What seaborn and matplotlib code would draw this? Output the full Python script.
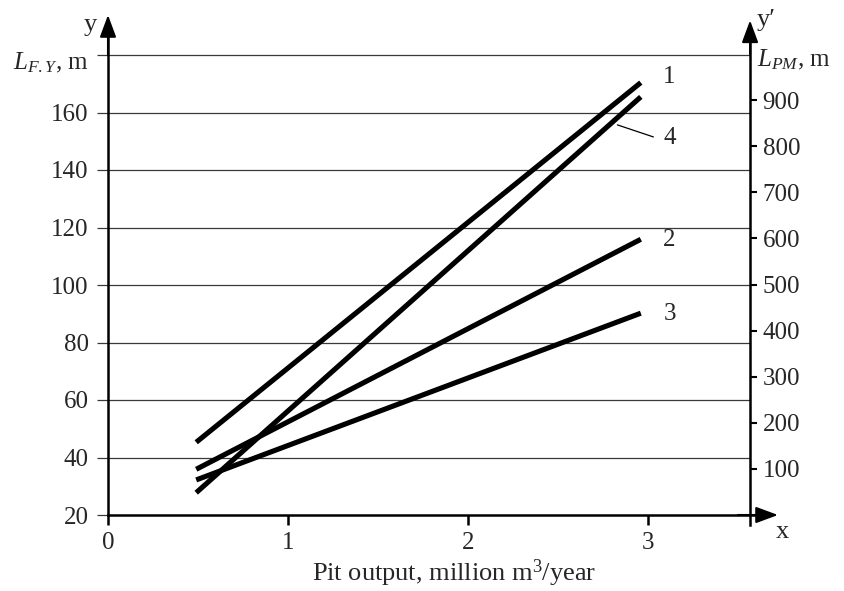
import numpy as np
import seaborn as sns
import matplotlib.pyplot as plt

# values
x_vals = [0.49, 2.96]
line1 = [45.3, 170.4]     # L_F.Y, m
line2 = [35.9, 115.9]
line3 = [32.2, 90.2]
line4 = [48.4, 907.0]     # L_PM, m (right axis)

left_ticks = [20, 40, 60, 80, 100, 120, 140, 160, 180]
left_labels = ['20', '40', '60', '80', '100', '120', '140', '160', '']
grid_y = [40, 60, 80, 100, 120, 140, 160, 180]
right_ticks = [100, 200, 300, 400, 500, 600, 700, 800, 900]
x_ticks = [0, 1, 2, 3]

sns.set_style('white')
plt.rcParams['font.family'] = ['Liberation Serif', 'DejaVu Serif']
plt.rcParams['mathtext.fontset'] = 'custom'
plt.rcParams['mathtext.rm'] = 'Liberation Serif'
plt.rcParams['mathtext.it'] = 'Liberation Serif:italic'

W, H = 845, 591
fig = plt.figure(figsize=(W / 100, H / 100), dpi=100)
ax = fig.add_axes([108 / W, 76 / H, 670 / W, 500 / H])
ax.set_xlim(0, 670 / 180)
ax.set_ylim(20, 20 + 500 / 2.875)
x_right = 3.567

ax2 = ax.twinx()
ax2.set_ylim(0, 500 / 0.461)

# grid lines stop at the right axis
ax.hlines(grid_y, 0, x_right, colors='#3a3a3a', lw=0.9, zorder=1)

lw = 3.7
sns.lineplot(x=x_vals, y=line1, ax=ax, color='k', lw=lw, solid_capstyle='butt', zorder=3)
sns.lineplot(x=x_vals, y=line2, ax=ax, color='k', lw=lw, solid_capstyle='butt', zorder=3)
sns.lineplot(x=x_vals, y=line3, ax=ax, color='k', lw=lw, solid_capstyle='butt', zorder=3)
sns.lineplot(x=x_vals, y=line4, ax=ax2, color='k', lw=lw, solid_capstyle='butt', zorder=3)
ax.set_xlabel('')
ax.set_ylabel('')
ax2.set_ylabel('')

# spines
for s in ['top', 'right']:
    ax.spines[s].set_visible(False)
for s in ['top', 'left', 'bottom']:
    ax2.spines[s].set_visible(False)
ax.spines['left'].set_linewidth(1.8)
ax.spines['bottom'].set_linewidth(1.8)
ax.spines['left'].set_bounds(20, 188)
ax.spines['bottom'].set_bounds(0, 3.65)
ax2.spines['right'].set_position(('data', x_right))
ax2.spines['right'].set_linewidth(1.8)
ax2.spines['right'].set_bounds(-22, 1060)
for sp in [ax.spines['left'], ax.spines['bottom'], ax2.spines['right']]:
    sp.set_color('k')

# axis arrows
arrow = dict(arrowstyle='-|>,head_length=1.35,head_width=0.5', color='k', lw=1.5,
             shrinkA=0, shrinkB=0)
ax.annotate('', xy=(0, 20 + 500 / 2.875), xytext=(0, 180), arrowprops=arrow,
            annotation_clip=False)
ax.annotate('', xy=(670 / 180, 20), xytext=(3.5, 20), arrowprops=arrow,
            annotation_clip=False)
ax2.annotate('', xy=(x_right, 1073), xytext=(x_right, 1000), arrowprops=arrow,
             annotation_clip=False)

# ticks
ax.set_xticks(x_ticks)
ax.set_xticklabels([str(t) for t in x_ticks])
ax.set_yticks(left_ticks)
ax.set_yticklabels(left_labels)
ax.tick_params(axis='x', direction='out', length=7.2, width=1.8, color='k',
               labelsize=18, pad=5, bottom=True)
ax.tick_params(axis='y', direction='out', length=8, width=0.9, color='#3a3a3a',
               labelsize=18, pad=6, left=True)
ax2.set_yticks(right_ticks)
ax2.tick_params(axis='y', direction='out', length=5, width=1.5, color='k',
                labelsize=18, pad=4, right=True)

# line labels
ax.text(3.12, 172.3, '1', fontsize=18, ha='center', va='center')
ax.text(3.12, 151.1, '4', fontsize=18, ha='center', va='center')
ax.text(3.12, 115.7, '2', fontsize=18, ha='center', va='center')
ax.text(3.12, 89.9, '3', fontsize=18, ha='center', va='center')
y4_left = 20 + np.interp(2.83, x_vals, line4) * 0.461 / 2.875
ax.plot([3.03, 2.83], [151.5, y4_left - 2.5], color='k', lw=0.9)

# axis titles
fig.text(90 / W, 1 - 25 / H, 'y', fontsize=19, ha='center', va='center')
fig.text(89 / W, 1 - 63 / H, '$L_{F.Y}$, m', fontsize=18, ha='right', va='center')
fig.text(757 / W, 1 - 20 / H, 'y′', fontsize=19, ha='left', va='center')
fig.text(757 / W, 1 - 60 / H, '$L_{PM}$, m', fontsize=18, ha='left', va='center')
fig.text(782 / W, 1 - 532 / H, 'x', fontsize=19, ha='center', va='center')
fig.text(454 / W, 1 - 573 / H, 'Pit output, million m$^3$/year', fontsize=19,
         ha='center', va='center')

plt.savefig('out.png', dpi=100)
